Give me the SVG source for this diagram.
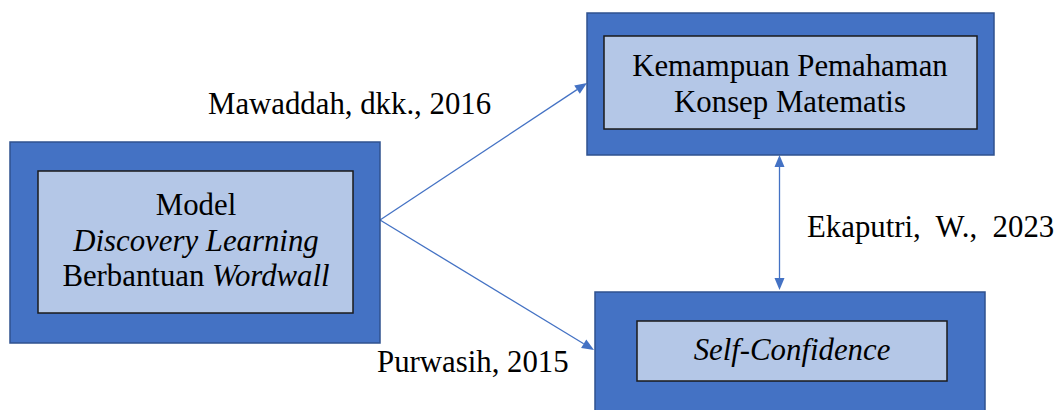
<svg xmlns="http://www.w3.org/2000/svg" width="1058" height="410" viewBox="0 0 1058 410">
<style>
.outer{fill:#4472C4;stroke:#2F528F;stroke-width:1.5}
.inner{fill:#B4C7E7;stroke:#1a1a1a;stroke-width:1.5}
.conn{stroke:#4472C4;stroke-width:1.3;fill:none}
.head{fill:#4472C4}
</style>
<rect width="1058" height="410" fill="#fff"/>
<g id="connectors">
<line class="conn" x1="380" y1="220" x2="577" y2="89.6"/>
<polygon class="head" points="587,83 579.8,93.8 574.2,85.5"/>
<line class="conn" x1="380" y1="220" x2="583.7" y2="343.8"/>
<polygon class="head" points="594,350 581.1,348.1 586.3,339.5"/>
<line class="conn" x1="779.5" y1="166" x2="779.5" y2="279"/>
<polygon class="head" points="779.5,155 774.5,167 784.5,167"/>
<polygon class="head" points="779.5,290 774.5,278 784.5,278"/>
</g>
<g id="node-model">
<rect class="outer" x="10" y="142" width="370" height="201"/>
<rect class="inner" x="38" y="171" width="315" height="142"/>
<text font-family="Liberation Serif" font-size="30.8" text-anchor="middle" x="196" y="215">Model</text>
<text font-family="Liberation Serif" font-size="30.8" text-anchor="middle" font-style="italic" x="196" y="251">Discovery Learning</text>
<text font-family="Liberation Serif" font-size="30.8" text-anchor="middle" x="196" y="286">Berbantuan <tspan font-style="italic">Wordwall</tspan></text>
</g>
<g id="node-kemampuan">
<rect class="outer" x="587" y="13" width="407" height="142"/>
<rect class="inner" x="604" y="36" width="373" height="93"/>
<text font-family="Liberation Serif" font-size="30.8" text-anchor="middle" x="790" y="76">Kemampuan Pemahaman</text>
<text font-family="Liberation Serif" font-size="30.8" text-anchor="middle" x="790" y="112">Konsep Matematis</text>
</g>
<g id="node-self">
<rect class="outer" x="595" y="292" width="390" height="130"/>
<rect class="inner" x="637" y="321" width="310" height="60"/>
<text font-family="Liberation Serif" font-size="30.8" text-anchor="middle" font-style="italic" x="792" y="360">Self-Confidence</text>
</g>
<g id="labels">
<text font-family="Liberation Serif" font-size="30.8" x="208" y="114">Mawaddah, dkk., 2016</text>
<text font-family="Liberation Serif" font-size="30.8" x="377" y="372">Purwasih, 2015</text>
<text font-family="Liberation Serif" font-size="30.8" x="807" y="237" xml:space="preserve">Ekaputri,  W.,  2023</text>
</g>
</svg>
